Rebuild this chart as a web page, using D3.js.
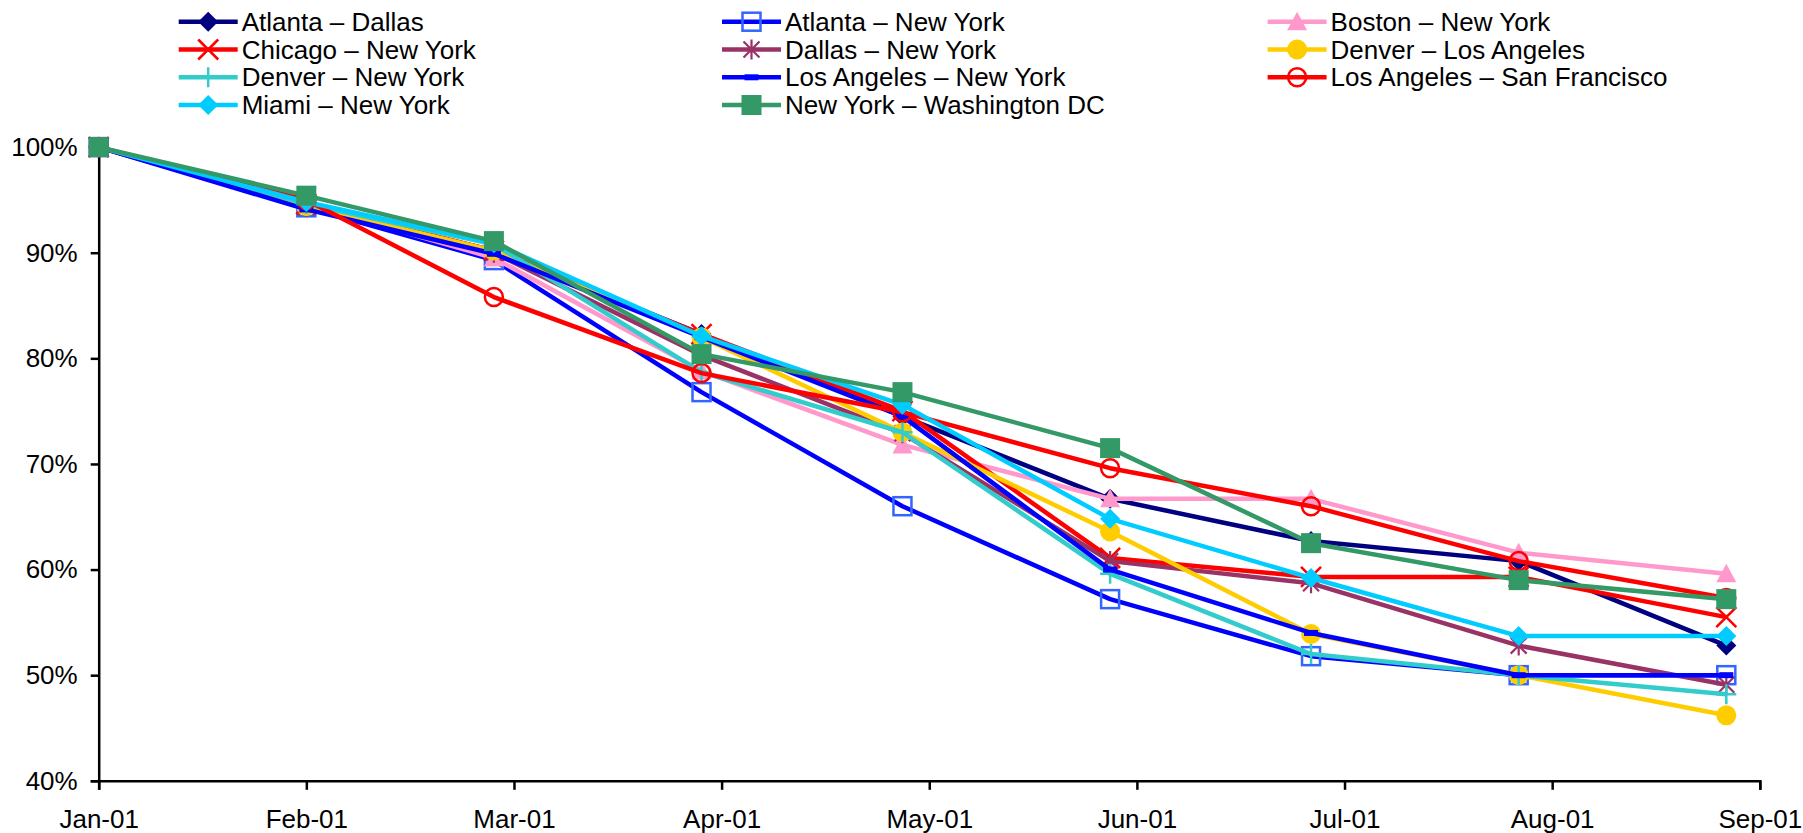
<!DOCTYPE html>
<html>
<head>
<meta charset="utf-8">
<script src="https://cdn.jsdelivr.net/npm/d3@7"></script>
<style>
  html, body { margin: 0; padding: 0; background: #fff; }
  svg { display: block; }
  text { font-family: "Liberation Sans", Arial, sans-serif; fill: #000; }
</style>
</head>
<body>
<svg id="chart" width="1803" height="833"></svg>
<script>
// ---- data ----
const dates = ["2001-01-01","2001-02-01","2001-03-01","2001-04-01","2001-05-01","2001-06-01","2001-07-01","2001-08-01","2001-09-01"];
const seriesNames = [
  "Atlanta – Dallas", "Atlanta – New York", "Boston – New York",
  "Chicago – New York", "Dallas – New York", "Denver – Los Angeles",
  "Denver – New York", "Los Angeles – New York", "Los Angeles – San Francisco",
  "Miami – New York", "New York – Washington DC"
];
const atlantaDallas   = [100, 94.4, 90.2, 82.3, 74.5, 66.7, 62.7, 60.8, 52.8];
const atlantaNewYork  = [100, 94.3, 89.3, 76.8, 66.0, 57.2, 51.8, 50.0, 50.0];
const bostonNewYork   = [100, 94.6, 89.5, 78.8, 71.8, 66.7, 66.7, 61.6, 59.6];
const chicagoNewYork  = [100, 94.6, 90.2, 82.3, 75.0, 61.1, 59.3, 59.3, 55.5];
const dallasNewYork   = [100, 94.3, 90.0, 80.3, 72.9, 60.8, 58.7, 52.8, 49.1];
const denverLA        = [100, 94.4, 90.2, 82.0, 73.0, 63.6, 53.9, 50.0, 46.2];
const denverNewYork   = [100, 94.6, 90.8, 78.7, 73.0, 59.6, 52.0, 50.0, 48.2];
const laNewYork       = [100, 94.1, 89.9, 82.0, 74.5, 60.0, 54.0, 50.0, 50.0];
const laSanFrancisco  = [100, 95.0, 85.8, 78.6, 74.9, 69.6, 66.0, 60.8, 57.3];
const miamiNewYork    = [100, 94.8, 90.9, 82.1, 75.6, 64.8, 59.2, 53.7, 53.7];
const nyWashington    = [100, 95.4, 91.1, 80.4, 76.8, 71.5, 62.5, 59.0, 57.2];
const yTicks = [40, 50, 60, 70, 80, 90, 100];
const xTickLabels = ["Jan-01","Feb-01","Mar-01","Apr-01","May-01","Jun-01","Jul-01","Aug-01","Sep-01"];

const allValues = [atlantaDallas, atlantaNewYork, bostonNewYork, chicagoNewYork, dallasNewYork,
  denverLA, denverNewYork, laNewYork, laSanFrancisco, miamiNewYork, nyWashington];

// ---- styles ----
const lineColors = ["#000080","#0000FF","#FF99CC","#FF0000","#993366","#FFCC00","#33CCCC","#0000FF","#FF0000","#00CCFF","#339966"];
const markerTypes = ["diamond","openSquare","triangle","x","star","circle","plus","dash","openCircle","diamond","square"];
const markerColors = ["#000080","#3366FF","#FF99CC","#FF0000","#993366","#FFCC00","#33CCCC","#0000FF","#FF0000","#00CCFF","#339966"];

const svg = d3.select("#chart");
const parse = d3.utcParse("%Y-%m-%d");
const startDate = parse("2001-01-01");
const endDate = d3.utcDay.offset(startDate, 31 * 8);

const x = d3.scaleUtc().domain([startDate, endDate]).range([98.7, 1759.8]);
const y = d3.scaleLinear().domain([40, 100]).range([780.8, 147.1]);

const tickDates = d3.range(9).map(i => d3.utcDay.offset(startDate, 31 * i));

// axes
const fontSize = 26;
const yAxis = d3.axisLeft(y).tickValues(yTicks).tickSize(8).tickFormat(d => d + "%");
const gy = svg.append("g").attr("transform", "translate(98.7,0)").call(yAxis);
gy.select(".domain").attr("stroke", "#000").attr("stroke-width", 2.5);
gy.selectAll(".tick line").attr("stroke", "#000").attr("stroke-width", 2.5);
gy.selectAll(".tick text").attr("font-size", fontSize).attr("font-family", "Liberation Sans, Arial, sans-serif")
  .attr("fill", "#000").attr("x", -21);

const xAxis = d3.axisBottom(x).tickValues(tickDates).tickSize(9)
  .tickFormat((d, i) => xTickLabels[i]);
const gx = svg.append("g").attr("transform", "translate(0,780.8)").call(xAxis);
gx.select(".domain").attr("stroke", "#000").attr("stroke-width", 2.5);
gx.selectAll(".tick line").attr("stroke", "#000").attr("stroke-width", 2.5);
gx.selectAll(".tick text").attr("font-size", fontSize).attr("font-family", "Liberation Sans, Arial, sans-serif")
  .attr("fill", "#000").attr("y", 29);

// marker drawer
function drawMarker(g, type, color, cx, cy) {
  const s = 10;
  switch (type) {
    case "diamond":
      g.append("path").attr("d", `M${cx},${cy-s}L${cx+s},${cy}L${cx},${cy+s}L${cx-s},${cy}Z`).attr("fill", color);
      break;
    case "square":
      g.append("rect").attr("x", cx-s).attr("y", cy-s).attr("width", 2*s).attr("height", 2*s).attr("fill", color);
      break;
    case "openSquare":
      g.append("rect").attr("x", cx-9).attr("y", cy-9).attr("width", 18).attr("height", 18)
        .attr("fill", "none").attr("stroke", color).attr("stroke-width", 2.5);
      break;
    case "triangle":
      g.append("path").attr("d", `M${cx},${cy-s}L${cx+s},${cy+s*0.85}L${cx-s},${cy+s*0.85}Z`).attr("fill", color);
      break;
    case "circle":
      g.append("circle").attr("cx", cx).attr("cy", cy).attr("r", s).attr("fill", color);
      break;
    case "openCircle":
      g.append("circle").attr("cx", cx).attr("cy", cy).attr("r", 9).attr("fill", "none")
        .attr("stroke", color).attr("stroke-width", 2.5);
      break;
    case "x":
      g.append("path").attr("d", `M${cx-s},${cy-s}L${cx+s},${cy+s}M${cx+s},${cy-s}L${cx-s},${cy+s}`)
        .attr("stroke", color).attr("stroke-width", 2.5).attr("fill", "none");
      break;
    case "star":
      g.append("path").attr("d", `M${cx-8},${cy-8}L${cx+8},${cy+8}M${cx+8},${cy-8}L${cx-8},${cy+8}M${cx},${cy-s}L${cx},${cy+s}`)
        .attr("stroke", color).attr("stroke-width", 2.2).attr("fill", "none");
      break;
    case "plus":
      g.append("path").attr("d", `M${cx-s},${cy}L${cx+s},${cy}M${cx},${cy-s}L${cx},${cy+s}`)
        .attr("stroke", color).attr("stroke-width", 2.5).attr("fill", "none");
      break;
    case "dash":
      g.append("rect").attr("x", cx-7).attr("y", cy-3).attr("width", 14).attr("height", 6).attr("fill", color);
      break;
  }
}

// series
const line = d3.line().x(d => x(d.date)).y(d => y(d.value));
const plot = svg.append("g");
allValues.forEach((vals, i) => {
  const pts = vals.map((v, j) => ({ date: parse(dates[j]), value: v }));
  const g = plot.append("g");
  g.append("path").datum(pts).attr("d", line).attr("fill", "none")
    .attr("stroke", lineColors[i]).attr("stroke-width", 4.5).attr("stroke-linejoin", "round");
  pts.forEach(p => drawMarker(g, markerTypes[i], markerColors[i], x(p.date), y(p.value)));
});

// legend
const legendColX = [178.7, 722, 1267.6];
const legendRowY = [21.7, 49.5, 77.3, 105];
const legend = svg.append("g");
seriesNames.forEach((name, i) => {
  const col = i % 3, row = Math.floor(i / 3);
  const lx = legendColX[col], ly = legendRowY[row];
  const g = legend.append("g");
  g.append("line").attr("x1", lx).attr("x2", lx + 59).attr("y1", ly).attr("y2", ly)
    .attr("stroke", lineColors[i]).attr("stroke-width", 4.5);
  drawMarker(g, markerTypes[i], markerColors[i], lx + 29.5, ly);
  g.append("text").attr("x", lx + 63).attr("y", ly).attr("dy", "0.35em")
    .attr("font-size", fontSize).text(name);
});
</script>
</body>
</html>
